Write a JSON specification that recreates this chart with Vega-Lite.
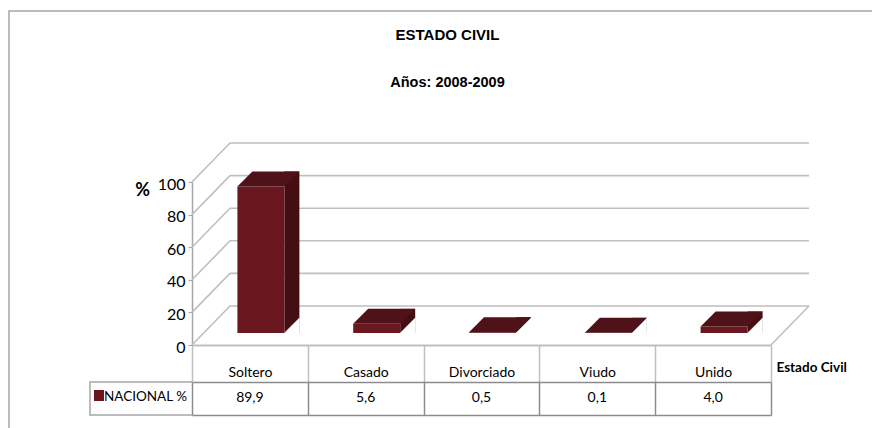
{
"$schema":"https://vega.github.io/schema/vega-lite/v6.json",
"width":579,"height":163,
"autosize":{"type":"none"},
"padding":{"left":192,"top":182,"right":101,"bottom":83},
"background":"white",
"config":{"view":{"stroke":null},"font":"Lato"},
"title":{"text":"ESTADO  CIVIL","subtitle":"Años: 2008-2009","anchor":"middle","frame":"group","dx":-34,"offset":-81,"font":"Liberation Sans","fontSize":15,"fontWeight":"bold","color":"#000000","subtitleFont":"Liberation Sans","subtitleFontSize":14.5,"subtitleFontWeight":"bold","subtitleColor":"#000000","subtitlePadding":33},
"datasets":{
"estado":[
{"estado":"Soltero","valor":89.9,"texto":"89,9"},
{"estado":"Casado","valor":5.6,"texto":"5,6"},
{"estado":"Divorciado","valor":0.5,"texto":"0,5"},
{"estado":"Viudo","valor":0.1,"texto":"0,1"},
{"estado":"Unido","valor":4.0,"texto":"4,0"}],
"marcas":[{"marca":0},{"marca":20},{"marca":40},{"marca":60},{"marca":80},{"marca":100}],
"serie":[{"serie":"NACIONAL %"}]
},
"resolve":{"axis":{"x":"independent","y":"independent"}},
"layer":[
{"data":{"name":"serie"},
 "mark":{"type":"point","shape":"M-18.3 8.3V-33.4H68","size":400,"filled":false,"stroke":"#A6A6A6","strokeWidth":1.5,"opacity":1},
 "encoding":{"x":{"datum":"Soltero","bandPosition":0,"type":"nominal","axis":null,"scale":{"type":"band","domain":["Soltero","Casado","Divorciado","Viudo","Unido"],"paddingInner":0,"paddingOuter":0}},"y":{"datum":0,"type":"quantitative","axis":null,"scale":{"domain":[0,100],"nice":false}}}},
{"data":{"name":"marcas"},
 "mark":{"type":"point","shape":"M0 0L3.8-3.9H61.7","size":400,"filled":false,"stroke":"#BFBFBF","strokeWidth":1.6,"opacity":1},
 "encoding":{"x":{"datum":"Soltero","bandPosition":0,"type":"nominal","axis":null,"scale":{"type":"band","domain":["Soltero","Casado","Divorciado","Viudo","Unido"],"paddingInner":0,"paddingOuter":0}},"y":{"field":"marca","type":"quantitative","scale":{"domain":[0,100],"nice":false},"axis":{"title":"%","titleAngle":0,"titleX":-50,"titleY":8,"titleAlign":"center","titleBaseline":"middle","titleFont":"Lato","titleFontSize":18,"titleFontWeight":"bold","titleColor":"#000000","values":[0,20,40,60,80,100],"grid":false,"domainColor":"#A6A6A6","domainWidth":1.5,"tickColor":"#A6A6A6","tickSize":4,"labelFont":"Lato","labelFontSize":16,"labelColor":"#000000","labelPadding":3,"labelOffset":2,"labelOverlap":false,"labelFlush":false,"labelBound":false}}}},
{"data":{"name":"marcas"},"transform":[{"filter":"datum.marca === 0"}],
 "mark":{"type":"point","shape":"M0 0L3.8-3.9","size":400,"filled":false,"stroke":"#BFBFBF","strokeWidth":1.6,"opacity":1},
 "encoding":{"x":{"datum":"Unido","bandPosition":1,"type":"nominal","axis":null,"scale":{"type":"band","domain":["Soltero","Casado","Divorciado","Viudo","Unido"],"paddingInner":0,"paddingOuter":0}},"y":{"field":"marca","type":"quantitative","axis":null,"scale":{"domain":[0,100],"nice":false}}}},
{"data":{"name":"estado"},
 "mark":{"type":"bar","width":15,"xOffset":42,"yOffset":-27,"y2Offset":-12,"color":"#440E12"},
 "encoding":{"x":{"field":"estado","type":"nominal","sort":null,"scale":{"type":"band","domain":["Soltero","Casado","Divorciado","Viudo","Unido"],"paddingInner":0,"paddingOuter":0},"axis":{"orient":"bottom","offset":70,"labels":false,"ticks":false,"title":null,"domain":true,"domainColor":"#8C8C8C","domainWidth":1.5}},"y":{"field":"valor","type":"quantitative","axis":null,"scale":{"domain":[0,100],"nice":false}},"y2":{"datum":0}}},
{"data":{"name":"estado"},
 "mark":{"type":"point","shape":"M2.35 0L3.85-1.5V0Z","size":400,"filled":true,"fill":"#FFFFFF","stroke":"#FFFFFF","strokeWidth":0.5,"opacity":1,"xOffset":11,"yOffset":-12},
 "encoding":{"x":{"field":"estado","type":"nominal","sort":null,"axis":null,"scale":{"type":"band","domain":["Soltero","Casado","Divorciado","Viudo","Unido"],"paddingInner":0,"paddingOuter":0}},"y":{"datum":0,"type":"quantitative","axis":null,"scale":{"domain":[0,100],"nice":false}}}},
{"data":{"name":"estado"},
 "mark":{"type":"bar","width":47,"xOffset":11,"yOffset":-12,"y2Offset":-12,"color":"#6A1720"},
 "encoding":{"x":{"field":"estado","type":"nominal","sort":null,"scale":{"type":"band","domain":["Soltero","Casado","Divorciado","Viudo","Unido"],"paddingInner":0,"paddingOuter":0},"axis":{"orient":"bottom","offset":0,"title":"Estado Civil","titleX":584,"titleY":22,"titleAlign":"left","titleBaseline":"middle","titleFont":"Lato","titleFontSize":13.5,"titleFontWeight":"bold","titleColor":"#000000","tickBand":"extent","tickSize":37,"tickColor":"#BFBFBF","tickWidth":1.5,"domainColor":"#BFBFBF","domainWidth":2,"labelAngle":0,"labelFont":"Lato","labelFontSize":14,"labelColor":"#000000","labelPadding":-17}},"y":{"field":"valor","type":"quantitative","axis":null,"scale":{"domain":[0,100],"nice":false}},"y2":{"datum":0}}},
{"data":{"name":"estado"},
 "mark":{"type":"point","shape":"M-2.35 0L-.85-1.5H3.85L2.35 0Z","size":400,"filled":true,"fill":"#4F1218","strokeWidth":0,"opacity":1,"xOffset":11,"yOffset":-12},
 "encoding":{"x":{"field":"estado","type":"nominal","sort":null,"axis":null,"scale":{"type":"band","domain":["Soltero","Casado","Divorciado","Viudo","Unido"],"paddingInner":0,"paddingOuter":0}},"y":{"field":"valor","type":"quantitative","axis":null,"scale":{"domain":[0,100],"nice":false}}}},
{"data":{"name":"estado"},
 "mark":{"type":"text","yOffset":53,"font":"Lato","fontSize":14,"color":"#000000"},
 "encoding":{"x":{"field":"estado","type":"nominal","sort":null,"scale":{"type":"band","domain":["Soltero","Casado","Divorciado","Viudo","Unido"],"paddingInner":0,"paddingOuter":0},"axis":{"orient":"bottom","offset":37,"labels":false,"title":null,"tickBand":"extent","tickSize":33,"tickColor":"#8C8C8C","tickWidth":1.5,"domainColor":"#8C8C8C","domainWidth":1.5}},"y":{"datum":0,"type":"quantitative","axis":null,"scale":{"domain":[0,100],"nice":false}},"text":{"field":"texto"}}},
{"data":{"name":"serie"},
 "mark":{"type":"point","shape":"M0 3.7H-10.2V7H0","size":400,"filled":false,"stroke":"#A6A6A6","strokeWidth":1.5,"opacity":1},
 "encoding":{"x":{"datum":"Soltero","bandPosition":0,"type":"nominal","axis":null,"scale":{"type":"band","domain":["Soltero","Casado","Divorciado","Viudo","Unido"],"paddingInner":0,"paddingOuter":0}},"y":{"datum":0,"type":"quantitative","axis":null,"scale":{"domain":[0,100],"nice":false}}}},
{"data":{"name":"serie"},
 "mark":{"type":"point","shape":"M-9.8 4.5H-8.8V5.6H-9.8Z","size":400,"filled":true,"fill":"#6A1720","strokeWidth":0,"opacity":1},
 "encoding":{"x":{"datum":"Soltero","bandPosition":0,"type":"nominal","axis":null,"scale":{"type":"band","domain":["Soltero","Casado","Divorciado","Viudo","Unido"],"paddingInner":0,"paddingOuter":0}},"y":{"datum":0,"type":"quantitative","axis":null,"scale":{"domain":[0,100],"nice":false}}}},
{"data":{"name":"serie"},
 "mark":{"type":"text","align":"right","xOffset":-5,"yOffset":52,"font":"Lato","fontSize":13.5,"color":"#000000"},
 "encoding":{"x":{"datum":"Soltero","bandPosition":0,"type":"nominal","axis":null,"scale":{"type":"band","domain":["Soltero","Casado","Divorciado","Viudo","Unido"],"paddingInner":0,"paddingOuter":0}},"y":{"datum":0,"type":"quantitative","axis":null,"scale":{"domain":[0,100],"nice":false}},"text":{"field":"serie"}}}
]
}
